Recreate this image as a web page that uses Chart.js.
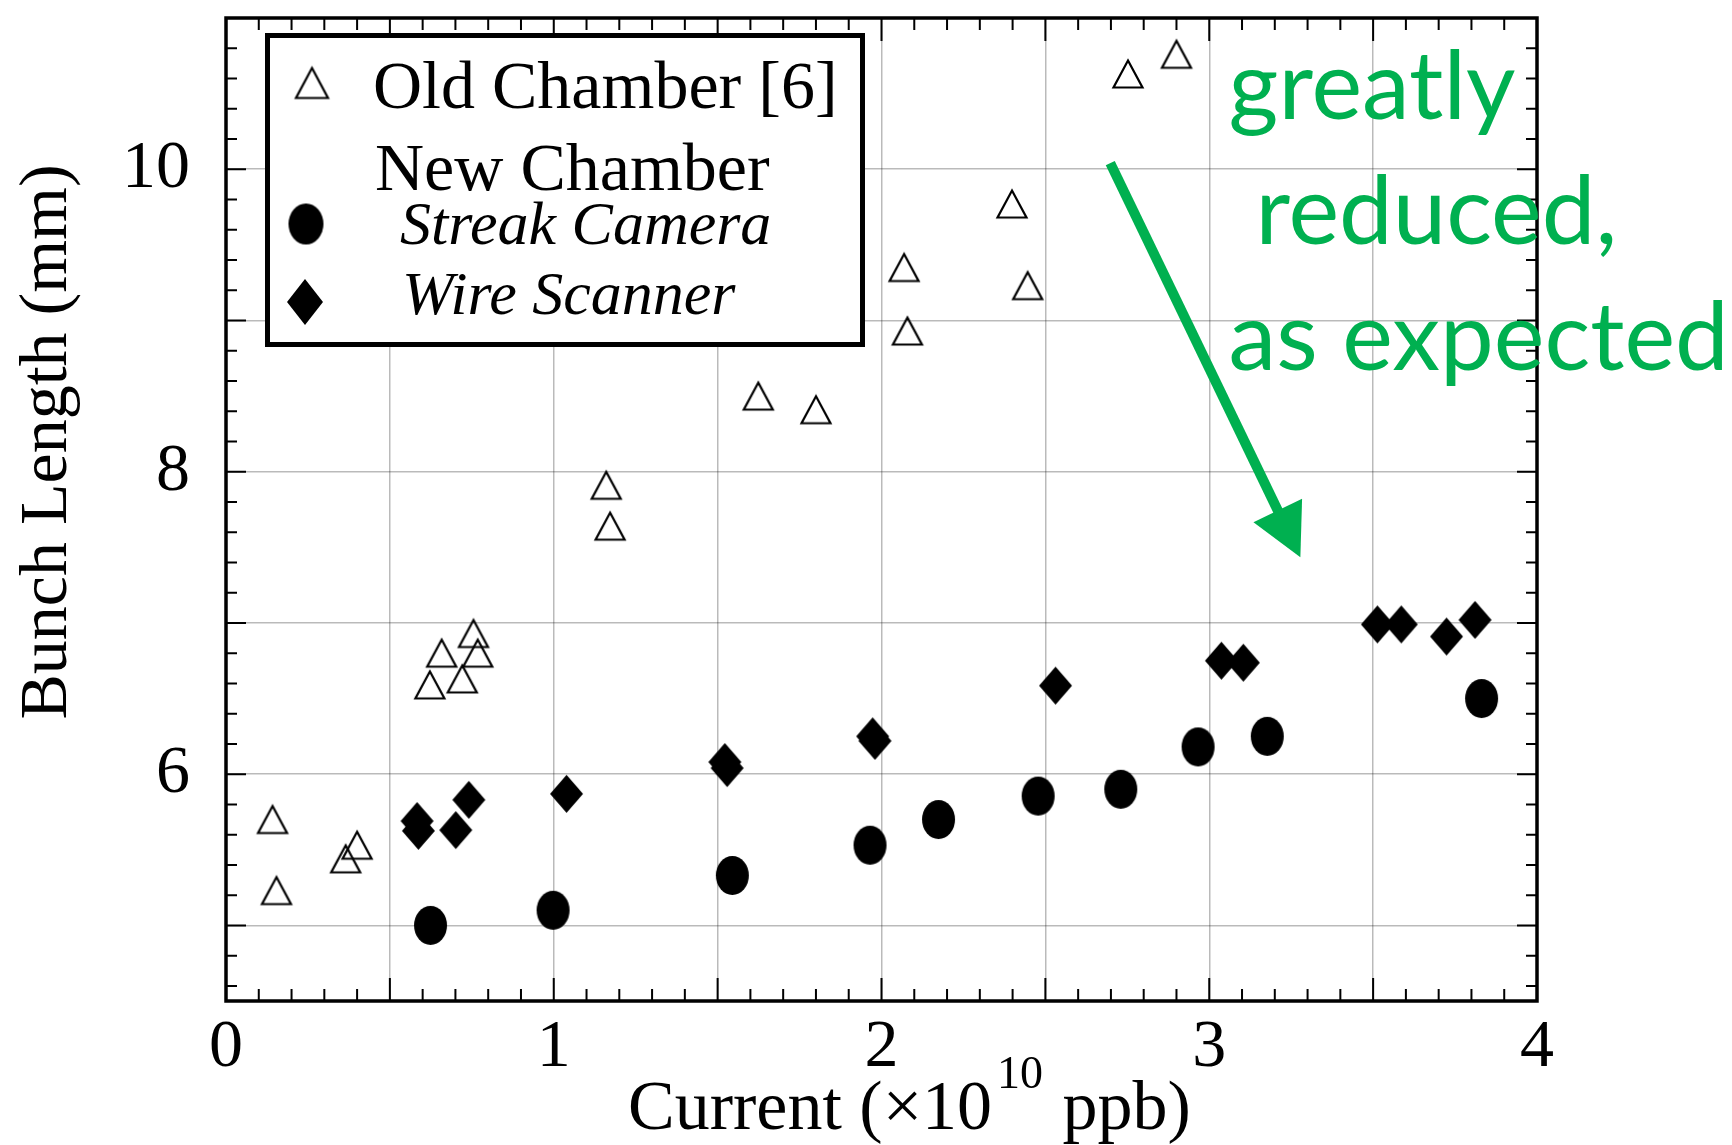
<!DOCTYPE html>
<html>
<head>
<meta charset="utf-8">
<title>Bunch Length vs Current</title>
<script src="https://cdn.jsdelivr.net/npm/chart.js@4.4.1/dist/chart.umd.min.js"></script>
<style>
  html, body { margin: 0; padding: 0; background: #fff; }
  #wrap { width: 1732px; height: 1145px; position: relative; }
</style>
</head>
<body>
<div id="wrap"><canvas id="bunchChart"></canvas></div>
<script>
// Bunch length (mm) against bunch current (x 1e10 ppb)
const oldChamberX = [0.142, 0.154, 0.365, 0.400, 0.622, 0.658, 0.721, 0.755, 0.768, 1.160, 1.172, 1.624, 1.800, 2.069, 2.079, 2.398, 2.446, 2.752, 2.900];
const oldChamberY = [5.70, 5.23, 5.44, 5.53, 6.59, 6.80, 6.63, 6.93, 6.80, 7.91, 7.64, 8.50, 8.41, 9.35, 8.93, 9.77, 9.23, 10.63, 10.76];

const streakX = [0.624, 0.998, 1.545, 1.965, 2.174, 2.478, 2.730, 2.966, 3.177, 3.831];
const streakY = [5.00, 5.10, 5.33, 5.53, 5.70, 5.855, 5.90, 6.18, 6.25, 6.50];

const wireX = [0.583, 0.587, 0.701, 0.741, 1.039, 1.522, 1.529, 1.973, 1.980, 2.531, 3.037, 3.104, 3.513, 3.586, 3.724, 3.811];
const wireY = [5.69, 5.625, 5.63, 5.83, 5.87, 6.08, 6.04, 6.25, 6.22, 6.585, 6.75, 6.737, 6.99, 6.99, 6.91, 7.02];

const xTickLabels = [0, 1, 2, 3, 4];
const yTickLabels = [6, 8, 10];

const legendLabels = ['Old Chamber [6]', 'New Chamber', 'Streak Camera', 'Wire Scanner'];
const noteLines = ['greatly', 'reduced,', 'as expected'];
// arrow tail / tip in data units
const arrowFrom = [2.698, 10.04];
const arrowTo = [3.278, 7.434];

const SERIF = '"Liberation Serif", "Times New Roman", serif';
const GREEN = '#00b050';

function makeMarker(kind, w, h) {
  const c = document.createElement('canvas');
  const pad = 2;
  c.width = w + pad * 2;
  c.height = h + pad * 2;
  const g = c.getContext('2d');
  g.translate(pad, pad);
  g.fillStyle = '#000';
  g.strokeStyle = '#000';
  g.beginPath();
  if (kind === 'triangle') {
    g.lineWidth = 2.2;
    g.moveTo(w / 2, 1.5);
    g.lineTo(w - 1.5, h - 1.5);
    g.lineTo(1.5, h - 1.5);
    g.closePath();
    g.stroke();
  } else if (kind === 'ellipse') {
    g.ellipse(w / 2, h / 2, w / 2, h / 2, 0, 0, Math.PI * 2);
    g.fill();
  } else {
    g.moveTo(w / 2, 0);
    g.lineTo(w, h / 2);
    g.lineTo(w / 2, h);
    g.lineTo(0, h / 2);
    g.closePath();
    g.fill();
  }
  return c;
}

const triMark = makeMarker('triangle', 32, 30);
const dotMark = makeMarker('ellipse', 33, 39);
const diaMark = makeMarker('diamond', 33, 38);

const toPoints = (xs, ys) => xs.map((x, i) => ({ x, y: ys[i] }));

// frame on all four sides with inward major/minor ticks
const frameTicks = {
  id: 'frameTicks',
  beforeDatasetsDraw(chart) {
    const { ctx, chartArea: a, scales: { x, y } } = chart;
    ctx.save();
    ctx.strokeStyle = '#000';
    ctx.lineWidth = 2;
    ctx.beginPath();
    for (let i = 0; i <= 40; i++) {
      const px = x.getPixelForValue(i / 10);
      const len = i % 5 === 0 ? 23 : 12;
      ctx.moveTo(px, a.bottom); ctx.lineTo(px, a.bottom - len);
      ctx.moveTo(px, a.top); ctx.lineTo(px, a.top + len);
    }
    for (let i = 23; i <= 55; i++) {
      const py = y.getPixelForValue(i / 5);
      const len = i % 5 === 0 ? 20 : 11;
      ctx.moveTo(a.left, py); ctx.lineTo(a.left + len, py);
      ctx.moveTo(a.right, py); ctx.lineTo(a.right - len, py);
    }
    ctx.stroke();
    ctx.lineWidth = 3.5;
    ctx.strokeRect(a.left, a.top, a.right - a.left, a.bottom - a.top);
    ctx.restore();
  }
};

// axis titles (x title carries a superscript)
const axisTitles = {
  id: 'axisTitles',
  afterDraw(chart) {
    const ctx = chart.ctx;
    ctx.save();
    ctx.fillStyle = '#000';
    ctx.textBaseline = 'alphabetic';

    ctx.font = `68px ${SERIF}`;
    ctx.save();
    ctx.translate(66, 442);
    ctx.rotate(-Math.PI / 2);
    ctx.textAlign = 'center';
    ctx.fillText('Bunch Length (mm)', 0, 0);
    ctx.restore();

    ctx.textAlign = 'left';
    ctx.font = `70px ${SERIF}`;
    let cx = 628;
    const base = 1129;
    const head = 'Current (\u00d710';
    ctx.fillText(head, cx, base);
    cx += ctx.measureText(head).width;
    ctx.font = `46px ${SERIF}`;
    ctx.fillText('10', cx + 5, base - 41);
    cx += ctx.measureText('10').width + 7;
    ctx.font = `70px ${SERIF}`;
    ctx.fillText(' ppb)', cx, base);
    ctx.restore();
  }
};

// boxed legend with a "New Chamber" heading over two entries
const legendBox = {
  id: 'legendBox',
  afterDraw(chart) {
    const ctx = chart.ctx;
    ctx.save();
    ctx.fillStyle = '#fff';
    ctx.fillRect(267, 35, 596, 310);
    ctx.strokeStyle = '#000';
    ctx.lineWidth = 5;
    ctx.strokeRect(267.5, 35.5, 595, 309);

    const put = (img, cx, cy) => ctx.drawImage(img, cx - img.width / 2, cy - img.height / 2);
    put(makeMarker('triangle', 35, 33), 312, 83);
    put(makeMarker('ellipse', 35, 41), 306, 224);
    put(makeMarker('diamond', 36, 46), 305, 302);

    ctx.fillStyle = '#000';
    ctx.textAlign = 'left';
    ctx.textBaseline = 'alphabetic';
    ctx.font = `68px ${SERIF}`;
    ctx.fillText(legendLabels[0], 373, 108);
    ctx.fillText(legendLabels[1], 375, 190);
    ctx.font = `italic 62px ${SERIF}`;
    ctx.fillText(legendLabels[2], 400, 244);
    ctx.fillText(legendLabels[3], 402, 314);
    ctx.restore();
  }
};

// green comment and arrow
const note = {
  id: 'note',
  afterDraw(chart) {
    const { ctx, scales: { x, y } } = chart;
    ctx.save();
    ctx.fillStyle = GREEN;
    ctx.strokeStyle = GREEN;

    const x0 = x.getPixelForValue(arrowFrom[0]), y0 = y.getPixelForValue(arrowFrom[1]);
    const x1 = x.getPixelForValue(arrowTo[0]), y1 = y.getPixelForValue(arrowTo[1]);
    const ang = Math.atan2(y1 - y0, x1 - x0);
    const headLen = 52, headHalf = 27;
    const bx = x1 - headLen * Math.cos(ang), by = y1 - headLen * Math.sin(ang);
    ctx.lineWidth = 10;
    ctx.beginPath();
    ctx.moveTo(x0, y0);
    ctx.lineTo(bx + 2 * Math.cos(ang), by + 2 * Math.sin(ang));
    ctx.stroke();
    ctx.beginPath();
    ctx.moveTo(x1, y1);
    ctx.lineTo(bx - headHalf * Math.sin(ang), by + headHalf * Math.cos(ang));
    ctx.lineTo(bx + headHalf * Math.sin(ang), by - headHalf * Math.cos(ang));
    ctx.closePath();
    ctx.fill();

    ctx.font = '100px Lato, "Open Sans", sans-serif';
    const size = 100 * 500 / ctx.measureText(noteLines[2]).width;
    ctx.font = `${size.toFixed(1)}px Lato, "Open Sans", sans-serif`;
    ctx.textAlign = 'left';
    ctx.textBaseline = 'alphabetic';
    ctx.fillText(noteLines[0], x.getPixelForValue(3.059), y.getPixelForValue(10.335));
    ctx.fillText(noteLines[1], x.getPixelForValue(3.141), y.getPixelForValue(9.507));
    ctx.fillText(noteLines[2], x.getPixelForValue(3.059), y.getPixelForValue(8.671));
    ctx.restore();
  }
};

new Chart(document.getElementById('bunchChart'), {
  type: 'scatter',
  data: {
    datasets: [
      { label: legendLabels[0], data: toPoints(oldChamberX, oldChamberY), pointStyle: triMark, pointRadius: 16 },
      { label: legendLabels[3], data: toPoints(wireX, wireY), pointStyle: diaMark, pointRadius: 17 },
      { label: legendLabels[2], data: toPoints(streakX, streakY), pointStyle: dotMark, pointRadius: 17 }
    ]
  },
  options: {
    responsive: true,
    maintainAspectRatio: false,
    animation: false,
    layout: { padding: { top: 13, right: 195, left: 0, bottom: 0 } },
    plugins: { legend: { display: false }, tooltip: { enabled: false } },
    scales: {
      x: {
        type: 'linear',
        min: 0,
        max: 4,
        afterFit: (s) => { s.height = 144; s.paddingLeft = 0; s.paddingRight = 0; },
        ticks: {
          stepSize: 0.5,
          padding: 6,
          color: '#000',
          font: { family: SERIF, size: 68 },
          maxRotation: 0,
          callback: (v) => (xTickLabels.includes(v) ? String(v) : '')
        },
        grid: { color: 'rgba(0,0,0,0.27)', lineWidth: 1.5, drawTicks: false },
        border: { display: false }
      },
      y: {
        type: 'linear',
        min: 4.5,
        max: 11,
        afterFit: (s) => { s.width = 226; s.paddingTop = 0; s.paddingBottom = 0; },
        ticks: {
          stepSize: 1,
          padding: 36,
          color: '#000',
          font: { family: SERIF, size: 68 },
          callback: (v) => (yTickLabels.includes(v) ? String(v) : '')
        },
        grid: { color: 'rgba(0,0,0,0.27)', lineWidth: 1.5, drawTicks: false },
        border: { display: false }
      }
    }
  },
  plugins: [frameTicks, axisTitles, legendBox, note]
});
</script>
</body>
</html>
